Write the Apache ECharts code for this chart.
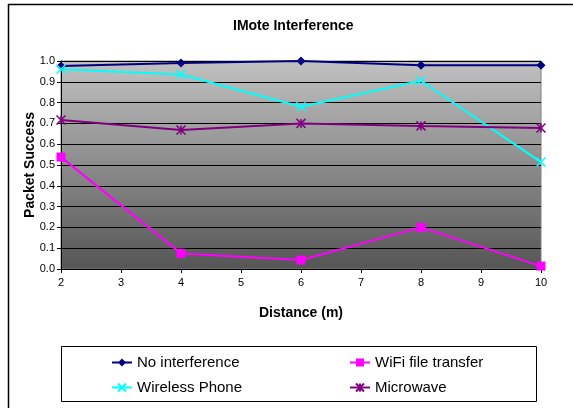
<!DOCTYPE html>
<html>
<head>
<meta charset="utf-8">
<script src="https://cdn.jsdelivr.net/npm/echarts@6/dist/echarts.min.js"></script>
<style>
  html, body { margin: 0; padding: 0; background: #fff; }
  #chart { width: 573px; height: 408px; }
</style>
</head>
<body>
<div id="chart"></div>
<script>
const distances = [2, 4, 6, 8, 10];
const noInterference = [0.976, 0.99, 1.0, 0.98, 0.98];
const wifiTransfer = [0.538, 0.075, 0.043, 0.2, 0.014];
const wirelessPhone = [0.96, 0.935, 0.78, 0.905, 0.514];
const microwave = [0.716, 0.668, 0.70, 0.688, 0.678];

const xMark = 'path://M0,0 L10,10 M10,0 L0,10';
const starMark = 'path://M0,0 L10,10 M10,0 L0,10 M5,0 L5,10';

const font = 'Liberation Sans, Arial, sans-serif';

function pts(vals) {
  return distances.map((d, i) => [d, vals[i]]);
}

function lineSeries(name, vals, color, symbol, size, stroke) {
  return {
    name: name,
    type: 'line',
    data: pts(vals),
    symbol: symbol,
    symbolSize: size,
    showAllSymbol: true,
    lineStyle: { color: color, width: 2 },
    itemStyle: stroke
      ? { color: color, borderColor: color, borderWidth: 1.5 }
      : { color: color, borderWidth: 0 },
    emphasis: { disabled: true },
    animation: false
  };
}

const chart = echarts.init(document.getElementById('chart'), null, { renderer: 'canvas' });

chart.setOption({
  backgroundColor: '#fff',
  animation: false,
  textStyle: { fontFamily: font },
  title: {
    text: 'IMote Interference',
    left: 233,
    top: 19,
    padding: [0, 0, 0, 0],
    textStyle: { fontSize: 14, fontWeight: 'bold', color: '#000', fontFamily: font }
  },
  grid: {
    left: 61, top: 61, width: 480, height: 208,
    show: true,
    borderColor: '#808080',
    borderWidth: 1,
    backgroundColor: {
      type: 'linear', x: 0, y: 0, x2: 0, y2: 1,
      colorStops: [
        { offset: 0, color: '#c2c2c2' },
        { offset: 1, color: '#555555' }
      ]
    }
  },
  xAxis: {
    type: 'value',
    min: 2, max: 10, interval: 1,
    name: 'Distance (m)',
    nameLocation: 'middle',
    nameGap: 37,
    nameMoveOverlap: false,
    nameTextStyle: { fontSize: 14, fontWeight: 'bold', color: '#000', fontFamily: font },
    axisLine: { lineStyle: { color: '#000', width: 1 } },
    axisTick: { show: true, length: 4, lineStyle: { color: '#000' } },
    axisLabel: { fontSize: 11, color: '#000', margin: 8, fontFamily: font },
    splitLine: { show: false }
  },
  yAxis: {
    type: 'value',
    min: 0, max: 1, interval: 0.1,
    name: 'Packet Success',
    nameLocation: 'middle',
    nameGap: 24,
    nameMoveOverlap: false,
    nameTextStyle: { fontSize: 14, fontWeight: 'bold', color: '#000', fontFamily: font },
    axisLine: { show: true, lineStyle: { color: '#000', width: 1 } },
    axisTick: { show: true, length: 4, lineStyle: { color: '#000' } },
    axisLabel: {
      fontSize: 11, color: '#000', margin: 6, fontFamily: font,
      formatter: v => v.toFixed(1)
    },
    splitLine: { show: true, lineStyle: { color: '#000', width: 1 } }
  },
  legend: [
    {
      data: ['No interference', 'Wireless Phone'],
      orient: 'vertical',
      left: 106, top: 350,
      itemWidth: 20, itemHeight: 10,
      itemGap: 10,
      selectedMode: false,
      textStyle: { fontSize: 15, color: '#000', fontFamily: font }
    },
    {
      data: ['WiFi file transfer', 'Microwave'],
      orient: 'vertical',
      left: 344, top: 350,
      itemWidth: 20, itemHeight: 10,
      itemGap: 10,
      selectedMode: false,
      textStyle: { fontSize: 15, color: '#000', fontFamily: font }
    }
  ],
  graphic: [
    {
      type: 'rect',
      shape: { x: 8.5, y: 4.5, width: 600, height: 450 },
      style: { fill: 'none', stroke: '#000', lineWidth: 1.5 },
      silent: true, z: -1
    },
    {
      type: 'rect',
      shape: { x: 61.5, y: 346.5, width: 475, height: 55 },
      style: { fill: 'none', stroke: '#000', lineWidth: 1 },
      silent: true
    }
  ],
  series: [
    lineSeries('No interference', noInterference, '#000080', 'diamond', 9, false),
    lineSeries('WiFi file transfer', wifiTransfer, '#ff00ff', 'rect', 9, false),
    lineSeries('Wireless Phone', wirelessPhone, '#00ffff', xMark, 9, true),
    lineSeries('Microwave', microwave, '#800080', starMark, 9, true)
  ]
});
</script>
</body>
</html>
